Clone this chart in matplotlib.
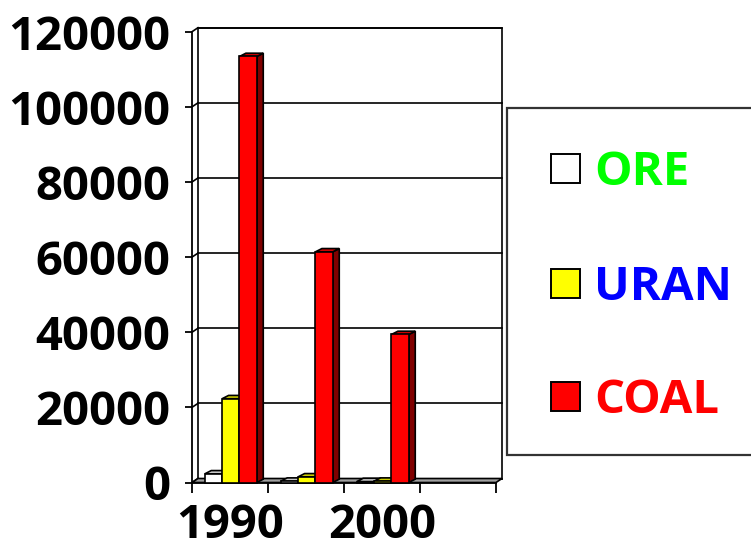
import matplotlib
matplotlib.use("Agg")
import matplotlib.pyplot as plt
from matplotlib.patches import Polygon, Rectangle
from matplotlib.lines import Line2D
from matplotlib.transforms import IdentityTransform

# ---- data -------------------------------------------------------------
years = ["1990", "1995", "2000", "2005"]
year_labels = ["1990", "", "2000", ""]
series_names = ["ORE", "URAN", "COAL"]
ore = [2300, 350, 250, 0]
uran = [22300, 1500, 350, 0]
coal = [113400, 61400, 39400, 0]
y_ticks = [0, 20000, 40000, 60000, 80000, 100000, 120000]

# ---- styling ------------------------------------------------------------
front_colors = ["#FFFFFF", "#FFFF00", "#FF0000"]
top_colors = ["#C8C8C8", "#CCCC00", "#CC0000"]
side_colors = ["#808080", "#808000", "#800000"]
label_colors = ["#00FF00", "#0000FF", "#FF0000"]
FONT = "Open Sans"
WEIGHT = "bold"
FS = 34
W, H = 751, 545

fig = plt.figure(figsize=(W / 100, H / 100), dpi=100)
fig.patch.set_facecolor("white")

# front plane of the plot area, in pixels
x_left, x_right = 192, 496
y_zero, y_top = 482.5, 31.7
ax = fig.add_axes([x_left / W, (H - y_zero) / H,
                   (x_right - x_left) / W, (y_zero - y_top) / H])
ax.set_xlim(0, len(years))
ax.set_ylim(0, 120000)
ax.patch.set_visible(False)
for s in ["top", "right"]:
    ax.spines[s].set_visible(False)
for s in ["left", "bottom"]:
    ax.spines[s].set_linewidth(1.3)
    ax.spines[s].set_zorder(1)

LW = 1.2
wall_d = (6, 4)      # depth shift of the walls (display px)
bar_d = (6.5, 3.3)   # depth shift of the bars


def disp(x, y):
    return ax.transData.transform((x, y))


def poly(points, fc, z, lw=LW):
    p = Polygon(points, closed=True, facecolor=fc, edgecolor="black",
                linewidth=lw, transform=IdentityTransform(), zorder=z,
                clip_on=False, joinstyle="miter")
    ax.add_patch(p)
    return p


def seg(p0, p1, z=1, lw=LW, color="black"):
    ln = Line2D([p0[0], p1[0]], [p0[1], p1[1]], color=color, linewidth=lw,
                transform=IdentityTransform(), zorder=z, clip_on=False)
    ax.add_line(ln)


n = len(years)
# back wall
bl = disp(0, 0) + wall_d
tr = disp(n, 120000) + wall_d
poly([bl, (tr[0], bl[1]), tr, (bl[0], tr[1])], "white", 0.5)
# gridlines on back wall and left wall
for v in y_ticks:
    a = disp(0, v)
    b = disp(n, v) + wall_d
    seg(a, a + wall_d, z=0.6)
    seg(a + wall_d, (b[0], b[1]), z=0.6)
# floor
f0 = disp(0, 0)
f1 = disp(n, 0)
poly([f0, f1, f1 + wall_d, f0 + wall_d], "#A0A0A0", 0.7)

# bars
values = [ore, uran, coal]
bw = 0.228
z = 2.0
for c in range(n):
    for k, vals in enumerate(values):
        v = vals[c]
        if v <= 0:
            continue
        x0 = c + 0.5 + (k - 1.5) * bw + 0.01
        x1 = x0 + bw
        A, B = disp(x0, v), disp(x1, v)
        B0 = disp(x1, 0)
        poly([B0, B, B + bar_d, B0 + bar_d], side_colors[k], z)
        poly([A, B, B + bar_d, A + bar_d], top_colors[k], z + 0.001)
        ax.bar(x0, v, width=bw, align="edge", color=front_colors[k],
               edgecolor="black", linewidth=LW, zorder=z + 0.002,
               clip_on=False)
        z += 0.01

# axes ticks and labels
ax.set_yticks(y_ticks)
ax.set_yticklabels([str(v) for v in y_ticks])
ax.tick_params(axis="y", direction="out", length=5, width=1.3, pad=11)
ax.set_xticks(range(n + 1))
ax.set_xticklabels([])
ax.tick_params(axis="x", which="major", direction="out", length=7,
               width=1.3)
ax.set_xticks([c + 0.5 for c in range(n)], minor=True)
ax.set_xticklabels(year_labels, minor=True)
ax.tick_params(axis="x", which="minor", length=0, pad=14)
for lab in ax.get_yticklabels() + ax.get_xticklabels(minor=True):
    lab.set_fontfamily(FONT)
    lab.set_fontweight(WEIGHT)
    lab.set_fontsize(FS)

# legend
def fy(py):
    return H - py

fig.add_artist(Rectangle((507, fy(455)), 260, 455 - 108, facecolor="white",
                         edgecolor="#333333", linewidth=1.6,
                         transform=IdentityTransform(), zorder=5,
                         clip_on=False))
centers = [168.3, 283.3, 396.2]
for k, name in enumerate(series_names):
    cy = centers[k]
    fig.add_artist(Rectangle((551, fy(cy + 14.3)), 28.6, 28.6,
                             facecolor=front_colors[k], edgecolor="black",
                             linewidth=1.4, transform=IdentityTransform(),
                             zorder=6))
    fig.text(594 / W, fy(cy + 16.7) / H, name, color=label_colors[k],
             fontfamily=FONT, fontweight=WEIGHT, fontsize=FS,
             ha="left", va="baseline", zorder=7)

fig.savefig("out.png", dpi=100)
